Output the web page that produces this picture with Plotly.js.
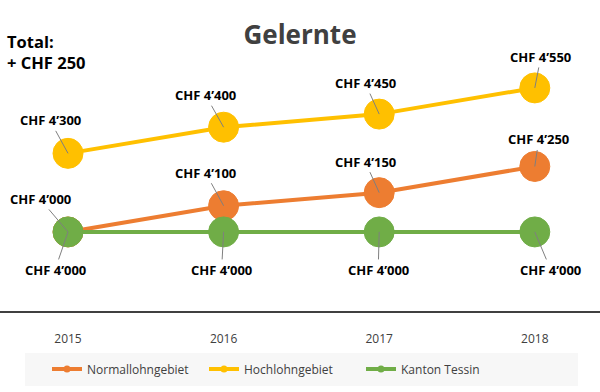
<!DOCTYPE html>
<html><head><meta charset="utf-8">
<script src="https://cdn.plot.ly/plotly-3.0.1.min.js"></script>
<style>html,body{margin:0;padding:0;background:#fff}#chart{width:600px;height:392px}</style>
</head><body><div id="chart"></div>
<script>
const years = ['2015','2016','2017','2018'];
const seriesNames = ['Normallohngebiet','Hochlohngebiet','Kanton Tessin'];
const normallohn = [4000, 4100, 4150, 4250];
const hochlohn = [4300, 4400, 4450, 4550];
const tessin = [4000, 4000, 4000, 4000];
const colors = ['#ED7D31','#FFC000','#70AD47'];
const titleText = 'Gelernte';
const totalText = 'Total:<br>+ CHF 250';

// label offsets (px) for each series/point
const offsets = [
  [[-28,-33],[-18,-33],[-14,-31],[4,-27]],
  [[-18,-33],[-18,-32],[-14,-31],[6,-31]],
  [[-13,38],[-2,38],[-1,38],[16,38]]
];
const fmt = v => 'CHF ' + Math.floor(v/1000) + '’' + String(v%1000).padStart(3,'0');
const xs = years.map((_, i) => i);
const all = [normallohn, hochlohn, tessin];

const traces = all.map((vals, s) => ({
  type: 'scatter', mode: 'lines+markers', name: seriesNames[s],
  x: xs, y: vals, showlegend: false,
  line: {color: colors[s], width: 4},
  marker: {color: colors[s], size: 30, line: {color: colors[s], width: 1}},
  hoverinfo: 'skip'
}));
// legend-only entries with small markers
all.forEach((vals, s) => traces.push({
  type: 'scatter', mode: 'lines+markers', name: seriesNames[s],
  x: [null], y: [null], showlegend: true,
  line: {color: colors[s], width: 4},
  marker: {color: colors[s], size: 7}
}));

const annotations = [];
all.forEach((vals, s) => vals.forEach((v, i) => {
  annotations.push({
    x: xs[i], y: v, xref: 'x', yref: 'y', text: fmt(v),
    showarrow: true, arrowhead: 0, arrowwidth: 1, arrowcolor: '#7f7f7f',
    ax: offsets[s][i][0], ay: offsets[s][i][1], standoff: 0,
    font: {family: 'Open Sans', size: 13, color: '#000', weight: 'bold'}
  });
}));
annotations.push({
  xref: 'paper', yref: 'paper', x: 0.008, y: (311-28)/271, xanchor: 'left', yanchor: 'top',
  text: '<b>' + totalText + '</b>', showarrow: false, align: 'left',
  font: {family: 'Open Sans', size: 16.5, color: '#000'}
});

const layout = {
  width: 600, height: 392,
  margin: {l: 0, r: 0, t: 40, b: 81},
  paper_bgcolor: '#fff', plot_bgcolor: '#fff',
  title: {text: '<b>' + titleText + '</b>', x: 0.5, xanchor: 'center', y: 0.91, yanchor: 'middle',
          font: {family: 'Open Sans', size: 26, color: '#404040'}},
  xaxis: {range: [-0.437, 3.419], tickvals: xs, ticktext: years, showgrid: false, zeroline: false,
          showline: true, linecolor: '#404040', linewidth: 1.5,
          ticks: 'outside', ticklen: 16, tickcolor: 'rgba(0,0,0,0)',
          tickfont: {family: 'Open Sans', size: 12, color: '#404040'}, fixedrange: true},
  yaxis: {range: [3698, 4733], visible: false, showgrid: false, zeroline: false, fixedrange: true},
  showlegend: true,
  legend: {orientation: 'h', x: 50/600 - 0.005, xanchor: 'left', y: (311-369)/271, yanchor: 'middle',
           bgcolor: 'rgba(0,0,0,0)', entrywidth: 112, traceorder: 'normal',
           font: {family: 'Open Sans', size: 12, color: '#404040'}},
  shapes: [{type: 'rect', xref: 'paper', yref: 'paper', x0: 25/600, x1: 578/600,
            y0: (311-386)/271, y1: (311-353)/271, fillcolor: '#f7f7f7', line: {width: 0}, layer: 'below'}],
  annotations: annotations
};
Plotly.newPlot('chart', traces, layout, {displayModeBar: false, staticPlot: true});
</script></body></html>
